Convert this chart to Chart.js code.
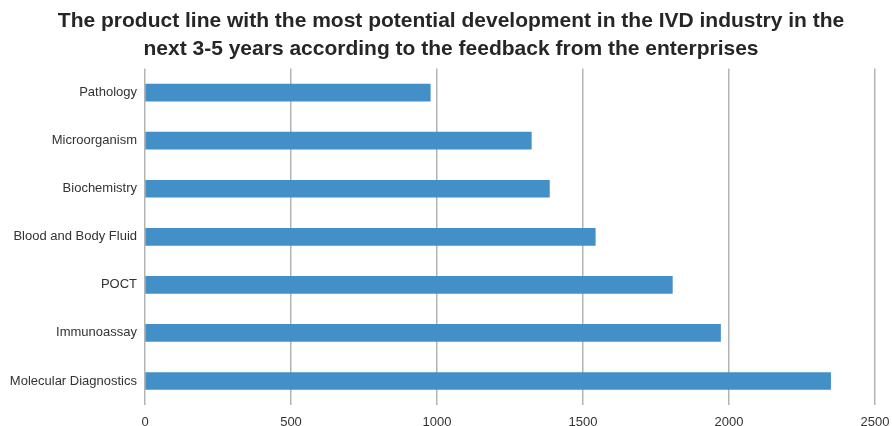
<!DOCTYPE html>
<html>
<head>
<meta charset="utf-8">
<script src="https://cdn.jsdelivr.net/npm/chart.js@4"></script>
<style>
  html, body { margin: 0; padding: 0; background: #fff; }
  #wrap { width: 892px; height: 426px; }
</style>
</head>
<body>
<div id="wrap"><canvas id="ivdChart"></canvas></div>
<script>
/* ========= DATA ========= */
const titleLines = [
  "The product line with the most potential development in the IVD industry in the",
  "next 3-5 years according to the feedback from the enterprises"
];
const categories = [
  "Pathology",
  "Microorganism",
  "Biochemistry",
  "Blood and Body Fluid",
  "POCT",
  "Immunoassay",
  "Molecular Diagnostics"
];
const counts = [977, 1323, 1385, 1542, 1806, 1971, 2348];
const xTicks = [0, 500, 1000, 1500, 2000, 2500];

/* ========= CHART ========= */
Chart.defaults.font.family = "'Liberation Sans', Arial, Helvetica, sans-serif";
Chart.defaults.color = "#333";

// nudge the title box so it is centred a bit right of the canvas middle
const titleShift = {
  id: "titleShift",
  afterLayout(chart) {
    if (chart.titleBlock) {
      chart.titleBlock.left = 27;
      chart.titleBlock.right = 875;
    }
  }
};

new Chart(document.getElementById("ivdChart"), {
  type: "bar",
  data: {
    labels: categories,
    datasets: [{
      data: counts,
      backgroundColor: "#4390c8",
      barThickness: 17
    }]
  },
  plugins: [titleShift],
  options: {
    indexAxis: "y",
    responsive: true,
    maintainAspectRatio: false,
    animation: false,
    layout: { padding: { left: 7, right: 17, top: 0, bottom: 0 } },
    plugins: {
      legend: { display: false },
      tooltip: { enabled: false },
      title: {
        display: true,
        text: titleLines,
        color: "#262626",
        font: { size: 21, weight: "bold", lineHeight: 1.3 },
        padding: { top: 8, bottom: 6 }
      }
    },
    scales: {
      x: {
        min: 0,
        max: 2500,
        afterBuildTicks: (s) => { s.ticks = xTicks.map(v => ({ value: v })); },
        afterFit: (s) => { s.height = 21; s.paddingLeft = 0; s.paddingRight = 0; },
        grid: { color: "#b3b3b3", lineWidth: 1.5, drawTicks: false },
        border: { display: false },
        ticks: {
          padding: 10,
          font: { size: 13 },
          color: "#333",
          maxRotation: 0,
          callback: (v) => String(v)
        }
      },
      y: {
        afterFit: (s) => { s.width = 138; },
        grid: { display: false, drawTicks: false },
        border: { display: false },
        ticks: { padding: 8, font: { size: 13 }, color: "#333" }
      }
    }
  }
});
</script>
</body>
</html>
